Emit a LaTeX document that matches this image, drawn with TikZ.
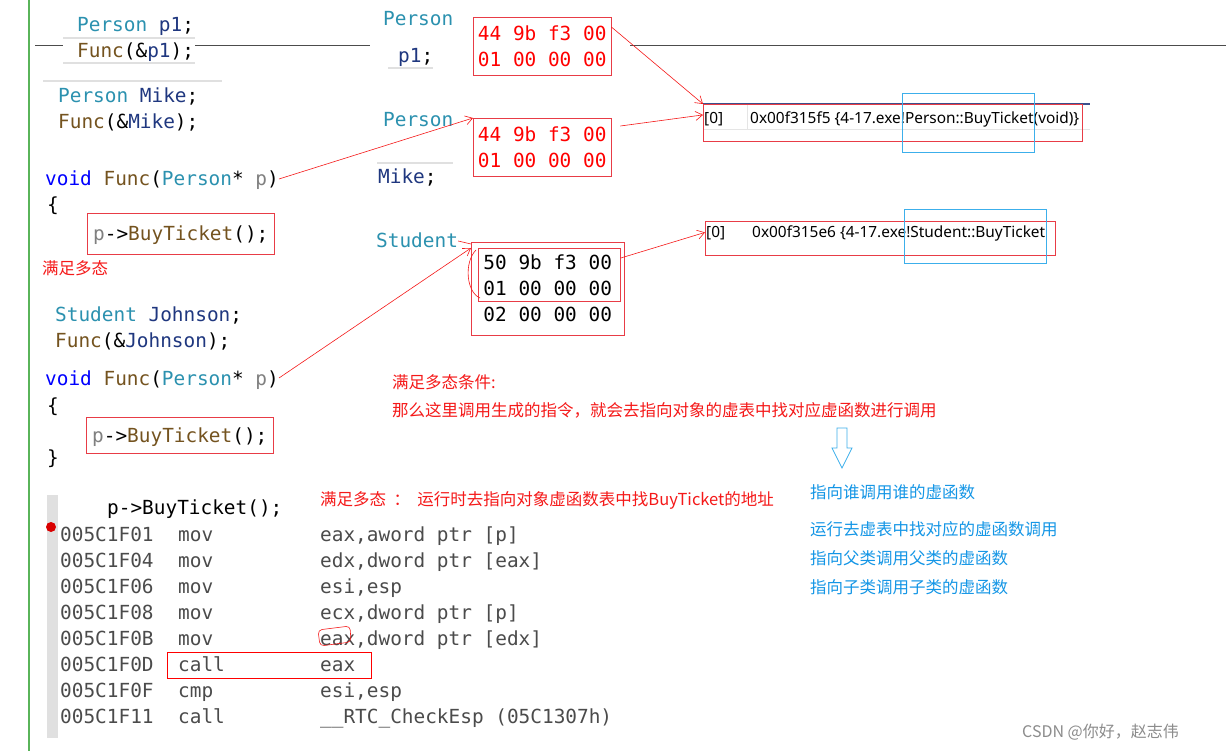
\documentclass[tikz,border=0pt]{standalone}
\usepackage{fontspec}
\setmonofont{DejaVu Sans Mono}
\newfontfamily\cjk{Noto Sans CJK SC}
\newfontfamily\uifont{Noto Sans}
\usetikzlibrary{arrows.meta,positioning}
\definecolor{tycol}{RGB}{43,145,175}
\definecolor{vncol}{RGB}{31,55,127}
\definecolor{fncol}{RGB}{116,83,31}
\definecolor{kwcol}{RGB}{0,0,255}
\definecolor{prmcol}{RGB}{128,128,128}
\definecolor{anno}{RGB}{245,25,25}
\definecolor{boxred}{RGB}{232,60,70}
\definecolor{selblue}{RGB}{60,175,235}
\definecolor{tipblue}{RGB}{20,150,230}
\definecolor{asmgray}{RGB}{75,75,75}
\definecolor{hdblue}{RGB}{60,80,140}
\newcommand\ty[1]{\textcolor{tycol}{#1}}
\newcommand\vn[1]{\textcolor{vncol}{#1}}
\newcommand\fnc[1]{\textcolor{fncol}{#1}}
\newcommand\kw[1]{\textcolor{kwcol}{#1}}
\newcommand\prm[1]{\textcolor{prmcol}{#1}}

\begin{document}
\begin{tikzpicture}[x=1pt,y=-1pt,
   code/.style={anchor=west,inner sep=0pt,text height=16pt,text depth=2pt,font=\ttfamily\fontsize{19.4}{26}\selectfont},
   mem/.style={draw=boxred,anchor=north west,align=left,inner sep=0pt,font=\ttfamily\fontsize{19.4}{26}\selectfont},
   hl/.style={draw=boxred,line width=0.8pt,anchor=north west,inner sep=0pt},
   sel/.style={draw=selblue,line width=0.8pt,anchor=north west,inner sep=0pt},
   note/.style={anchor=west,inner sep=0pt,text=anno,font=\cjk\fontsize{16.5}{20}\selectfont},
   tip/.style={note,text=tipblue},
   vt/.style={anchor=west,inner sep=0pt,font=\uifont\fontsize{15.4}{17}\selectfont},
   pen/.style={draw=anno,line width=0.6pt,-{Straight Barb[length=7pt,width=9pt]}},
   sep/.style={draw=black!12,line width=1.5pt}]
  \useasboundingbox[fill=white] (0,0) rectangle (1226,751);
  % editor margin and separators
  \draw[draw={rgb,255:red,90;green,180;blue,90},line width=1.2pt] (29,0) -- (29,751);
  \draw[black!70,line width=0.8pt] (35,45) -- (63,45) (195,45) -- (370,45) (630,45) -- (1226,45);
  \draw[sep] (63,38) -- (195,38) (63,63) -- (195,63) (43,81) -- (222,81);
  \draw[sep] (388,68) -- (433,68) (377,163) -- (453,163);

  % source, left column
  \node[code] (p1decl) at (77,25) {\ty{Person} \vn{p1};};
  \node[code] (p1call) at (77,51) {\fnc{Func}(\&\vn{p1});};
  \node[code] (mkdecl) at (58,96) {\ty{Person} \vn{Mike};};
  \node[code] (mkcall) at (58,122) {\fnc{Func}(\&\vn{Mike});};
  \node[code] (fa) at (45,179) {\kw{void} \fnc{Func}(\ty{Person}* \prm{p})};
  \node[code] (fabr) at (47,205) {\{};
  \node[code,draw=boxred,inner xsep=6pt,inner ysep=11.5pt] (bt1) at (87,233.5) {\prm{p}->\fnc{BuyTicket}();};
  \node[note] (poly) at (42,268) {满足多态};
  \node[code] (jsdecl) at (55,314) {\ty{Student} \vn{Johnson};};
  \node[code] (jscall) at (55,340) {\fnc{Func}(\&\vn{Johnson});};
  \node[code] (fb) at (45,378) {\kw{void} \fnc{Func}(\ty{Person}* \prm{p})};
  \node[code] (fbbr) at (47,405) {\{};
  \node[code,draw=boxred,inner xsep=6pt,inner ysep=9pt] (bt2) at (86,435) {\prm{p}->\fnc{BuyTicket}();};
  \node[code] (fbend) at (47,457) {\}};

  % object memory
  \node[code] (t1) at (383,19) {\ty{Person}};
  \node[code] (n1) at (398,56) {\vn{p1};};
  \node[mem,text=red,minimum width=138pt,minimum height=58pt] (mem1) at (473,17) {44 9b f3 00\\01 00 00 00};
  \node[code] (t2) at (383,120) {\ty{Person}};
  \node[code] (n2) at (378,177) {\vn{Mike};};
  \node[mem,text=red,minimum width=138pt,minimum height=58pt] (mem2) at (473,118) {44 9b f3 00\\01 00 00 00};
  \node[code] (t3) at (376,241) {\ty{Student}};
  \node[mem,minimum width=153pt,minimum height=93pt] (stu) at (471,242) {50 9b f3 00\\01 00 00 00\\02 00 00 00};
  \node[hl,minimum width=142pt,minimum height=53pt] (stutop) at (478,248) {};

  % vtables
  \draw[hdblue,line width=1.5pt] (703,104) -- (1090,104);
  \draw[black!10,line width=0.8pt] (703,129) -- (1090,129) (747,104) -- (747,129);
  \node[hl,minimum width=379pt,minimum height=37pt] (vt1) at (703,104) {};
  \node[vt] (ix1) at (704,119) {[0]};
  \node[vt] (va1) at (750,119) {0x00f315f5 \{4-17.exe!Person::BuyTicket(void)\}};
  \node[sel,minimum width=132pt,minimum height=59pt] (fn1) at (902,93) {};
  \node[hl,minimum width=350pt,minimum height=34pt] (vt2) at (705,221) {};
  \node[vt] (ix2) at (706,233) {[0]};
  \node[vt] (va2) at (752,233) {0x00f315e6 \{4-17.exe!Student::BuyTicket};
  \node[sel,minimum width=142pt,minimum height=54pt] (fn2) at (904,209) {};

  % pen strokes
  \draw[pen] (fa.east) -- (mem2.north west);
  \draw[pen] (fb.east) -- ([yshift=-6pt]stu.north west);
  \draw[pen] ([yshift=-10pt]mem1.north east) -- (vt1.north west);
  \draw[pen] ([xshift=9pt,yshift=-8pt]mem2.north east) -- ([yshift=8pt]vt1.west);
  \draw[pen] ([yshift=-10pt]stutop.north east) -- ([yshift=6pt]vt2.west);
  \draw[anno,line width=0.6pt] (t3.east) -- ([yshift=-2pt]stu.north west);
  \draw[anno,line width=0.6pt] (476,250) .. controls (464,262) and (466,292) .. (480,298);

  % notes
  \node[note] (cond) at (392,382) {满足多态条件:};
  \node[note] (cond2) at (392,410) {那么这里调用生成的指令，就会去指向对象的虚表中找对应虚函数进行调用};
  \draw[selblue,line width=0.8pt] (837,428) -- (847,428) -- (847,448) -- (852,448) -- (842,468) -- (832,448) -- (837,448) -- cycle;
  \node[tip] (tp1) at (810,492) {指向谁调用谁的虚函数};
  \node[tip] (tp2) at (810,529) {运行去虚表中找对应的虚函数调用};
  \node[tip] (tp3) at (810,558) {指向父类调用父类的虚函数};
  \node[tip] (tp4) at (810,587) {指向子类调用子类的虚函数};

  % disassembly
  \fill[black!12] (47,495) rectangle (58,738);
  \fill[red!85!black] (51,527) circle (5pt);
  \node[code] (asmsrc) at (107,507) {p->BuyTicket();};
  \node[note] (asmnote) at (320,500) {满足多态 \ ： \ 运行时去指向对象虚函数表中找BuyTicket的地址};
  \foreach \ad/\mn/\op [count=\i] in {005C1F01/mov/{eax,aword ptr [p]},005C1F04/mov/{edx,dword ptr [eax]},
      005C1F06/mov/{esi,esp},005C1F08/mov/{ecx,dword ptr [p]},005C1F0B/mov/{eax,dword ptr [edx]},
      005C1F0D/call/eax,005C1F0F/cmp/{esi,esp},005C1F11/call/{\_\_RTC\_CheckEsp (05C1307h)}} {
    \node[code,text=asmgray] (ad\i) at (60,{534+26*(\i-1)}) {\ad};
    \node[code,text=asmgray] (mn\i) at (178,{534+26*(\i-1)}) {\mn};
    \node[code,text=asmgray] (op\i) at (320,{534+26*(\i-1)}) {\op};
  }
  \node[draw=red,line width=1pt,anchor=north west,inner sep=0pt,minimum width=204pt,minimum height=26pt] (callbox) at (167,651.5) {};
  \draw[anno,line width=0.6pt,rounded corners=4pt] (318,630) -- (350,626) -- (351,642) -- (320,646) -- cycle;

  \node[anchor=west,inner sep=0pt,text=black!45,font=\cjk\fontsize{16}{18}\selectfont] (wm) at (1022,732) {CSDN @你好，赵志伟};
\end{tikzpicture}
\end{document}
